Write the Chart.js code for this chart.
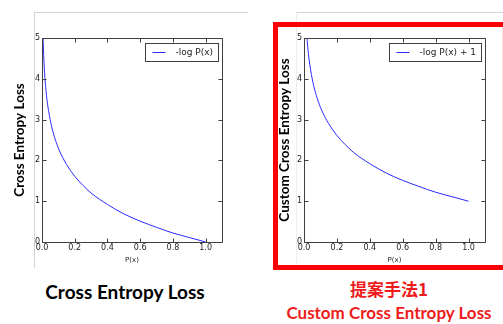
<!DOCTYPE html>
<html><head><meta charset="utf-8">
<script src="https://cdn.jsdelivr.net/npm/chart.js@4/dist/chart.umd.min.js"></script>
<style>
body{margin:0;background:#fff;width:503px;height:324px;overflow:hidden;position:relative}
.abs{position:absolute}
.ttl{white-space:nowrap;transform:translateX(-50%);font-weight:bold;line-height:20px}
</style></head><body>
<div class="abs" style="left:34px;top:12px;width:213px;height:255px;border-top:1px solid #d4d4d4;border-left:1px solid #d4d4d4"></div>
<div class="abs" style="left:296px;top:12px;width:207px;height:252px;border-top:1px solid #d4d4d4;border-left:1px solid #eeeeee"></div>
<div class="abs" style="left:273px;top:22px;width:230px;height:238px;border:5px solid #ff0000"></div>
<div class="abs" style="left:502px;top:27px;width:1px;height:238px;background:#ffdede"></div>
<div class="abs" style="left:0;top:0;width:250px;height:270px"><canvas id="c1"></canvas></div>
<div class="abs" style="left:250px;top:0;width:253px;height:270px"><canvas id="c2"></canvas></div>
<div class="abs ttl" style="left:125px;top:282px;font-family:Lato;font-size:19px;color:#000">Cross Entropy Loss</div>
<div class="abs ttl" style="left:389px;top:279px;font-family:'Noto Sans CJK JP';font-size:17px;color:#ee1c1c">提案手法1</div>
<div class="abs ttl" style="left:389px;top:303px;font-family:Lato;font-size:17px;color:#ee1c1c">Custom Cross Entropy Loss</div>
<script>
// ---- data ----
const xTicks = [0.0, 0.2, 0.4, 0.6, 0.8, 1.0];
const yTicks = [0, 1, 2, 3, 4, 5];

const pxLeft   = [0.0067,0.008,0.01,0.013,0.016,0.02,0.025,0.03,0.04,0.05,0.06,0.075,0.1,0.125,0.15,0.2,0.25,0.3,0.4,0.5,0.6,0.7,0.8,0.9,1.0];
const lossLeft = [5.0,4.83,4.6,4.34,4.14,3.9,3.69,3.5,3.22,3.0,2.81,2.59,2.3,2.08,1.9,1.61,1.39,1.2,0.92,0.69,0.51,0.36,0.22,0.11,0.0];

const pxRight   = [0.018,0.02,0.025,0.03,0.04,0.05,0.06,0.075,0.1,0.125,0.15,0.2,0.25,0.3,0.4,0.5,0.6,0.7,0.8,0.9,1.0];
const lossRight = [5.0,4.91,4.69,4.51,4.22,4.0,3.81,3.59,3.3,3.08,2.9,2.61,2.39,2.2,1.92,1.69,1.51,1.36,1.22,1.11,1.0];

const labelLeft = '-log P(x)';
const labelRight = '-log P(x) + 1';
const yTitleLeft = 'Cross Entropy Loss';
const yTitleRight = 'Custom Cross Entropy Loss';
const xTitle = 'P(x)';

const LINE = '#2a2aff';

const mplPlugin = {
  id: 'mpl',
  afterDraw(chart) {
    const {ctx, chartArea: a} = chart;
    const x = chart.scales.x, y = chart.scales.y;
    ctx.save();
    ctx.setLineDash([]);
    ctx.globalAlpha = 1;
    ctx.strokeStyle = '#404040';
    ctx.lineWidth = 1;
    const L = Math.round(a.left) + 0.5, T = Math.round(a.top) + 0.5;
    const R = Math.round(a.right) + 0.5, B = Math.round(a.bottom) + 0.5;
    ctx.beginPath();
    xTicks.forEach(v => {
      const p = Math.round(x.getPixelForValue(v)) + 0.5;
      ctx.moveTo(p, B); ctx.lineTo(p, B - 4);
      ctx.moveTo(p, T); ctx.lineTo(p, T + 4);
    });
    yTicks.forEach(v => {
      const p = Math.round(y.getPixelForValue(v)) + 0.5;
      ctx.moveTo(L, p); ctx.lineTo(L + 4, p);
      ctx.moveTo(R, p); ctx.lineTo(R - 4, p);
    });
    ctx.moveTo(L, T); ctx.lineTo(R, T); ctx.lineTo(R, B); ctx.lineTo(L, B); ctx.closePath();
    ctx.stroke();
    // legend
    const ds = chart.data.datasets[0];
    ctx.font = '9px "DejaVu Sans"';
    const tw = ctx.measureText(ds.label).width;
    const w = Math.round(7 + 13 + 10 + tw + 5);
    const h = 18;
    const bx = Math.round(a.right - 4 - w) + 0.5;
    const by = Math.round(a.top + 5) + 0.5;
    ctx.fillStyle = '#fff';
    ctx.fillRect(bx, by, w, h);
    ctx.strokeStyle = '#404040';
    ctx.strokeRect(bx, by, w, h);
    ctx.strokeStyle = ds.borderColor;
    ctx.beginPath();
    ctx.moveTo(bx + 7, by + h / 2); ctx.lineTo(bx + 20, by + h / 2);
    ctx.stroke();
    ctx.fillStyle = '#222';
    ctx.textBaseline = 'middle';
    ctx.fillText(ds.label, bx + 30, by + h / 2 + 0.5);
    ctx.restore();
  }
};

function makeChart(id, xs, ys, label, yTitle, pad, yWidth, titlePadTop) {
  const pts = xs.map((v, i) => ({x: v, y: ys[i]}));
  return new Chart(document.getElementById(id), {
    type: 'scatter',
    data: {datasets: [{label, data: pts, showLine: true, borderColor: LINE, borderWidth: 1,
      pointRadius: 0, cubicInterpolationMode: 'monotone', fill: false}]},
    options: {
      responsive: true, maintainAspectRatio: false, animation: false, devicePixelRatio: 1,
      layout: {padding: pad},
      plugins: {legend: {display: false}, tooltip: {enabled: false}},
      scales: {
        x: {type: 'linear', min: 0, max: 1.1,
          afterBuildTicks: s => { s.ticks = xTicks.map(v => ({value: v})); },
          afterFit: s => { s.height = 22; },
          grid: {display: false, drawTicks: false}, border: {display: false},
          ticks: {font: {family: 'DejaVu Sans', size: 8}, color: '#222', padding: 1, maxRotation: 0,
            callback: v => Number(v).toFixed(1)},
          title: {display: true, text: xTitle, font: {family: 'DejaVu Sans', size: 7}, color: '#222', padding: {top: 0, bottom: 0}}
        },
        y: {type: 'linear', min: 0, max: 5,
          afterBuildTicks: s => { s.ticks = yTicks.map(v => ({value: v})); },
          afterFit: s => { s.width = yWidth; },
          grid: {display: false, drawTicks: false}, border: {display: false},
          ticks: {font: {family: 'DejaVu Sans', size: 8}, color: '#222', padding: 2,
            callback: v => String(v)},
          title: {display: true, text: yTitle, font: {family: 'Lato', size: 13.5, weight: 'bold'}, color: '#000', padding: {top: titlePadTop, bottom: 0}}
        }
      }
    },
    plugins: [mplPlugin]
  });
}

makeChart('c1', pxLeft, lossLeft, labelLeft, yTitleLeft, {left: 12, top: 38, right: 28, bottom: 6}, 30, 0);
makeChart('c2', pxRight, lossRight, labelRight, yTitleRight, {left: 24, top: 38, right: 18, bottom: 6}, 30, 3);
</script>
</body></html>
